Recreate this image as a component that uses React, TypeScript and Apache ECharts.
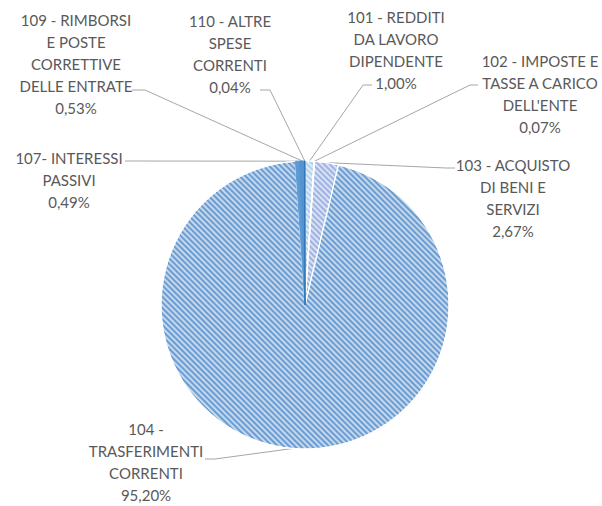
import React, { useEffect, useRef } from "react";
import * as echarts from "echarts";

const categories = [
  "101 - REDDITI\nDA LAVORO\nDIPENDENTE",
  "102 - IMPOSTE E\nTASSE A CARICO\nDELL'ENTE",
  "103 - ACQUISTO\nDI BENI E\nSERVIZI",
  "104 -\nTRASFERIMENTI\nCORRENTI",
  "107- INTERESSI\nPASSIVI",
  "109 - RIMBORSI\nE POSTE\nCORRETTIVE\nDELLE ENTRATE",
  "110 - ALTRE\nSPESE\nCORRENTI",
];
const percentages = [1.0, 0.07, 2.67, 95.2, 0.49, 0.53, 0.04];

// styling (kept apart from data)
const sliceColors = ["#b3cfec", "#c2d5ee", "#9fb3e3", "#6c9dd2", "#5b9bd5", "#5592d0", "#2e75b6"];
const hatched = [true, true, true, true, false, false, false];
// label layout: block centre, and horizontal leader segment [xFar, xNear, y]
const labelCentres: [number, number][] = [
  [396, 50],
  [540, 94],
  [513, 198],
  [146, 462],
  [69, 180],
  [76, 64],
  [230, 54],
];
const leaderSegs: [number, number, number][] = [
  [363, 372, 85],
  [470, 478, 85],
  [446, 455, 168],
  [215, 205, 459],
  [135, 125, 161],
  [145, 132, 90],
  [270, 260, 90],
];

const fmt = (v: number) => v.toFixed(2).replace(".", ",") + "%";

export default function App() {
  const ref = useRef<HTMLDivElement>(null);
  useEffect(() => {
    if (!ref.current) return;
    const chart = echarts.init(ref.current, undefined, { renderer: "svg" });
    const data = categories.map((name, i) => ({
      name,
      value: percentages[i],
      itemStyle: {
        color: sliceColors[i],
        borderColor: hatched[i] ? "#ffffff" : sliceColors[i],
        borderWidth: 1,
        decal: hatched[i]
          ? {
              symbol: "rect",
              symbolSize: 1,
              dashArrayX: [1, 0],
              dashArrayY: [1.2, 1.2],
              rotation: Math.PI / 4,
              color: "rgba(255,255,255,0.6)",
            }
          : "none",
      },
    }));
    chart.setOption({
      animation: false,
      backgroundColor: "#ffffff",
      series: [
        {
          type: "pie",
          center: [305, 305],
          radius: 144,
          startAngle: 90,
          clockwise: true,
          avoidLabelOverlap: false,
          data,
          label: {
            show: true,
            position: "outside",
            formatter: (p: any) => p.name + "\n" + fmt(p.value),
            fontFamily: "Lato, 'Open Sans', sans-serif",
            fontSize: 15,
            lineHeight: 22,
            color: "#595959",
            align: "center",
          },
          labelLine: {
            show: true,
            length: 10,
            length2: 10,
            lineStyle: { color: "#a6a6a6", width: 1 },
          },
          emphasis: { disabled: true },
          labelLayout: (params: any) => {
            const i = params.dataIndex;
            const [cx, cy] = labelCentres[i];
            const [xf, xn, y] = leaderSegs[i];
            const pts = params.labelLinePoints;
            const edge = pts && pts[0] ? pts[0] : [305, 161];
            return {
              x: cx,
              y: cy,
              align: "center",
              verticalAlign: "middle",
              labelLinePoints: [edge, [xf, y], [xn, y]],
            };
          },
        },
      ],
    });
    return () => chart.dispose();
  }, []);
  return (
    <div
      ref={ref}
      style={{ position: "fixed", left: 0, top: 0, width: 602, height: 506 }}
    />
  );
}
